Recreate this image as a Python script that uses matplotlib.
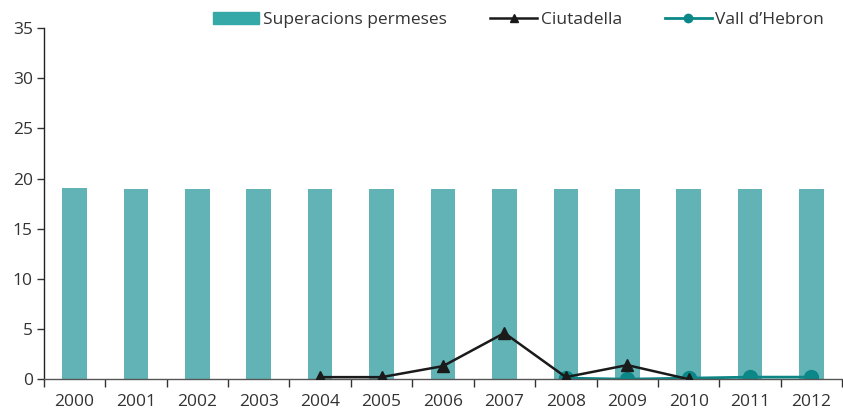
import matplotlib.pyplot as plt
import numpy as np

plt.rcParams['font.family'] = ['Open Sans', 'DejaVu Sans']

# Data
years = ["2000", "2001", "2002", "2003", "2004", "2005", "2006",
         "2007", "2008", "2009", "2010", "2011", "2012"]
superacions = [19.1, 19, 19, 19, 19, 19, 19, 19, 19, 19, 19, 19, 19]
ciutadella = [None, None, None, None, 0.2, 0.2, 1.3, 4.6, 0.2, 1.4, 0.0, None, None]
vall_hebron = [None, None, None, None, None, None, None, None, 0.1, 0.0, 0.1, 0.2, 0.2]

text_color = "#333333"
bar_color = "#62b3b6"
vall_color = "#0b8787"

x = np.arange(len(years))
ciu = np.array([np.nan if v is None else v for v in ciutadella])
vh = np.array([np.nan if v is None else v for v in vall_hebron])

fig = plt.figure(figsize=(8.43, 4.09), dpi=100)
ax = fig.add_axes([0.052, 0.073, 0.947, 0.858])

bars = ax.bar(x, superacions, width=0.4, color=bar_color, label="Superacions permeses", zorder=1)
vline, = ax.plot(x, vh, color=vall_color, linewidth=2, marker='o', markersize=10,
                 label="Vall d\u2019Hebron", zorder=2)
cline, = ax.plot(x, ciu, color="#1a1a1a", linewidth=1.8, marker='^', markersize=9,
                 label="Ciutadella", zorder=3)

ax.set_xlim(-0.5, len(years) - 0.5)
ax.set_ylim(0, 35)
ax.set_yticks(range(0, 36, 5))
ax.set_xticks(x)
ax.set_xticklabels(years)
ax.set_xticks(np.arange(-0.5, len(years), 1), minor=True)
ax.tick_params(axis='x', which='major', length=0, pad=11, labelsize=12.5, colors=text_color)
ax.tick_params(axis='x', which='minor', length=6, width=1, color="#333333", direction='out')
ax.tick_params(axis='y', length=5, width=1, color="#333333", labelsize=12.5,
               labelcolor=text_color, pad=3)

for s in ['top', 'right']:
    ax.spines[s].set_visible(False)
ax.spines['left'].set_color("#222222")
ax.spines['bottom'].set_color("#555555")
ax.spines['left'].set_linewidth(1)
ax.spines['bottom'].set_linewidth(1)

leg_bar = plt.Rectangle((0, 0), 1, 1, color="#35a8a8")
ax.legend([leg_bar, cline, vline], ["Superacions permeses", "Ciutadella", "Vall d\u2019Hebron"],
          loc='upper right', bbox_to_anchor=(0.997, 1.09), ncol=3, frameon=False,
          fontsize=12.5, labelcolor=text_color, handlelength=2.7, columnspacing=2.5,
          handletextpad=0.2, markerscale=0.6)

fig.savefig("out.png", dpi=100)
